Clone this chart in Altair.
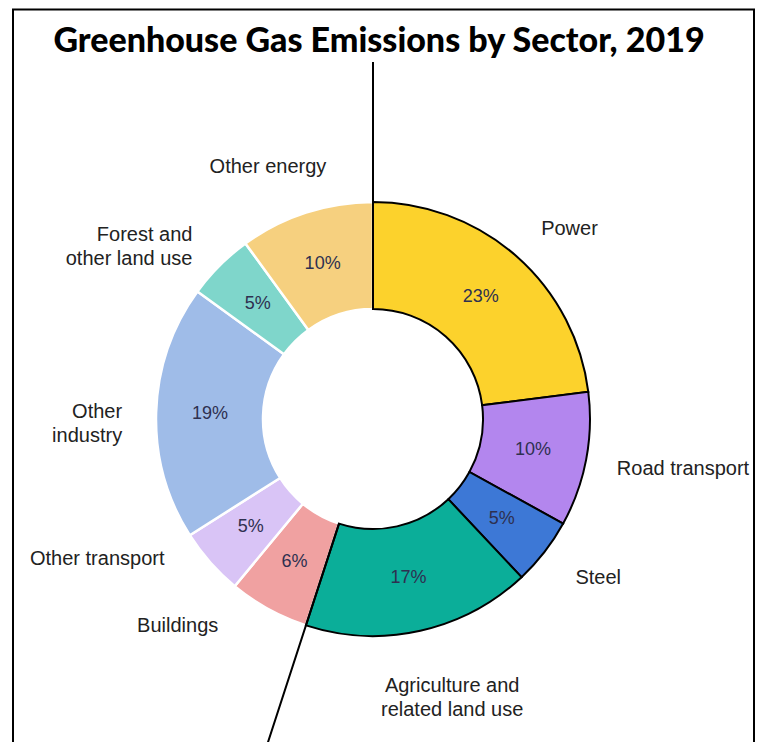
import math
import altair as alt
import pandas as pd

# ---- data ----
sectors = ["Power", "Road transport", "Steel", "Agriculture and related land use",
           "Buildings", "Other transport", "Other industry",
           "Forest and other land use", "Other energy"]
shares = [23, 10, 5, 17, 6, 5, 19, 5, 10]
label_lines = ["Power", "Road transport", "Steel", "Agriculture and\nrelated land use",
               "Buildings", "Other transport", "Other\nindustry",
               "Forest and\nother land use", "Other energy"]
colors = ["#FCD22C", "#B386EE", "#3D78D6", "#0BAE99", "#F0A1A1",
          "#D9C4F6", "#9FBCE8", "#7FD6CB", "#F6D07F"]
title_text = "Greenhouse Gas Emissions by Sector, 2019"
highlight_count = 4  # Power .. Agriculture are outlined in black

# ---- derived table ----
cum = []
s = 0
for v in shares:
    cum.append(s)
    s += v
df = pd.DataFrame({
    "sector": sectors,
    "share": shares,
    "idx": list(range(len(sectors))),
    "start": cum,
    "end": [c + v for c, v in zip(cum, shares)],
    "mid": [c + v / 2 for c, v in zip(cum, shares)],
    "pct": [f"{v}%" for v in shares],
    "label": label_lines,
})
bounds = pd.DataFrame({"b": [0, sum(shares[:highlight_count])]})

# ---- layout / style ----
CX, CY = 365, 411
R_OUT, R_IN = 217, 110
th = alt.Scale(domain=[0, 100], range=[0, 2 * math.pi])
col = alt.Color("sector:N", scale=alt.Scale(domain=sectors, range=colors), legend=None)
pos = dict(x=alt.value(CX), y=alt.value(CY))
FONT = "Liberation Sans"

base = alt.Chart(df)

arcs_rest = base.transform_filter(f"datum.idx >= {highlight_count}").mark_arc(
    radius=R_OUT, radius2=R_IN, stroke="white", strokeWidth=2.5
).encode(theta=alt.Theta("start:Q", scale=th, stack=False), theta2="end:Q", color=col, **pos)

arcs_hi = base.transform_filter(f"datum.idx < {highlight_count}").mark_arc(
    radius=R_OUT, radius2=R_IN, stroke="black", strokeWidth=2
).encode(theta=alt.Theta("start:Q", scale=th, stack=False), theta2="end:Q", color=col, **pos)

rays = alt.Chart(bounds).mark_arc(
    radius=357, radius2=R_IN, stroke="black", strokeWidth=2, fillOpacity=0
).encode(theta=alt.Theta("b:Q", scale=th, stack=False), theta2="b:Q", **pos)

pct = base.mark_text(radius=163, fontSize=18, font=FONT, color="#2e3050").encode(
    theta=alt.Theta("mid:Q", scale=th, stack=False), text="pct:N", **pos)

# label offsets (style) : dx, dy, align
label_style = {
    "Power": (8, 24, "center"),
    "Road transport": (30, -3, "center"),
    "Steel": (0, -16, "center"),
    "Agriculture and related land use": (17, -11, "center"),
    "Buildings": (-58, -43, "center"),
    "Other transport": (-62, -48, "center"),
    "Other industry": (34, 2, "right"),
    "Forest and other land use": (21, 18, "right"),
    "Other energy": (-17, 19, "center"),
}
label_layers = []
for i, name in enumerate(sectors):
    dx, dy, al = label_style[name]
    label_layers.append(
        base.transform_filter(f"datum.idx == {i}").mark_text(
            radius=285, dx=dx, dy=dy, align=al, baseline="middle",
            lineBreak="\n", lineHeight=24, fontSize=20, font=FONT, color="#222222"
        ).encode(theta=alt.Theta("mid:Q", scale=th, stack=False), text="label:N", **pos)
    )

title = alt.Chart(pd.DataFrame({"t": [title_text]})).mark_text(
    fontSize=34, fontWeight=900, baseline="alphabetic", align="center",
    font="Lato", color="black"
).encode(text="t:N", x=alt.value(371), y=alt.value(44))

frame = alt.Chart(pd.DataFrame({"f": [0]})).mark_rect(
    fillOpacity=0, stroke="black", strokeWidth=2
).encode(x=alt.value(5), x2=alt.value(746), y=alt.value(1.5), y2=alt.value(900))

chart = alt.layer(
    arcs_rest, arcs_hi, rays, pct, *label_layers, title, frame
).properties(
    width=747, height=734, padding=0,
    autosize=alt.AutoSizeParams(type="none"),
).configure_view(strokeWidth=0)

chart.save("out.html", embed_options={"renderer": "svg", "actions": False})
